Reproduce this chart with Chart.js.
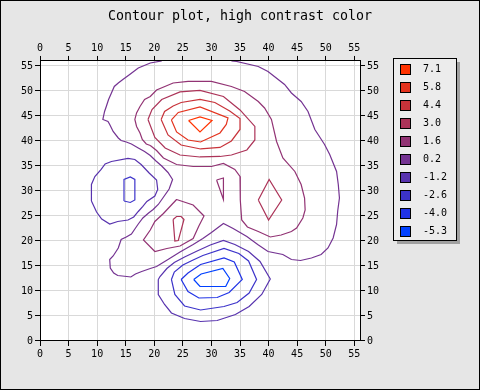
<!DOCTYPE html>
<html><head><meta charset="utf-8">
<script src="https://cdn.jsdelivr.net/npm/chart.js@4/dist/chart.umd.min.js"></script>
<style>html,body{margin:0;padding:0;background:#e6e6e6}canvas{display:block}</style>
</head><body>
<canvas id="c" width="480" height="390"></canvas>
<script>
const TITLE = 'Contour plot, high contrast color';
const TICKS = [0, 5, 10, 15, 20, 25, 30, 35, 40, 45, 50, 55];
const AXIS_MIN = 0, AXIS_MAX = 56;
const LEVELS = [7.1, 5.8, 4.4, 3.0, 1.6, 0.2, -1.2, -2.6, -4.0, -5.3];
const LEVEL_LABELS = ['7.1', '5.8', '4.4', '3.0', '1.6', '0.2', '-1.2', '-2.6', '-4.0', '-5.3'];
const COLORS = ['rgb(255,51,0)', 'rgb(228,51,30)', 'rgb(200,51,58)', 'rgb(172,51,88)', 'rgb(146,51,116)',
                'rgb(116,51,146)', 'rgb(88,51,174)', 'rgb(60,51,202)', 'rgb(32,51,230)', 'rgb(0,64,255)'];

// contour polylines [x, y]
const c71 = [[26.0,44.1],[28.0,44.8],[30.1,44.1],[28.0,41.8],[26.0,44.1]];
const c58 = [[23.0,44.2],[24.2,45.7],[28.0,46.8],[32.9,44.6],[32.6,43.3],[31.5,41.6],[28.1,39.8],[25.9,40.2],[23.9,41.8],[23.0,44.2]];
const c44 = [[21.2,44.3],[21.8,45.9],[23.3,47.0],[24.7,47.7],[28.0,48.3],[30.6,47.7],[33.2,46.0],[35.0,44.5],[35.0,42.3],[33.5,40.0],[31.5,38.7],[28.1,38.4],[24.7,39.2],[22.4,41.2],[21.2,44.3]];
const c30a = [[18.9,44.3],[19.6,46.3],[21.3,48.3],[24.5,49.8],[28.0,50.1],[32.1,48.9],[35.0,46.2],[37.6,42.9],[37.6,40.2],[36.2,38.2],[33.5,37.2],[31.5,36.9],[28.0,36.8],[24.5,37.2],[21.9,38.6],[20.1,40.7],[18.9,44.3]];
const c30b = [[38.2,28.2],[40.1,32.3],[42.3,28.2],[40.0,24.2],[38.2,28.2]];
const c30c = [[23.3,24.3],[23.9,24.9],[24.7,24.9],[25.2,24.3],[24.2,20.1],[23.6,20.0],[23.3,24.3]];
const c16a = [[19.3,39.1],[20.4,38.1],[21.6,36.6],[23.9,35.3],[26.8,34.9],[30.0,34.9],[32.1,35.5],[34.1,34.3],[35.0,32.9],[35.1,30.0],[35.0,28.2],[35.3,24.2],[36.3,22.8],[38.2,21.9],[40.3,20.8],[42.2,21.2],[44.0,21.9],[44.9,22.6],[46.0,24.6],[46.4,26.2],[46.3,28.6],[45.7,31.3],[44.6,33.9],[42.5,36.6],[41.4,39.9],[40.5,44.3],[39.3,46.6],[38.2,47.9],[35.8,49.9],[33.5,50.9],[30.0,51.9],[25.9,51.9],[23.3,51.6],[20.4,50.2],[19.3,48.9],[18.3,48.3],[17.5,46.9],[16.9,45.6],[16.6,44.3],[16.9,42.9],[17.5,41.6],[17.9,40.3],[18.6,39.4],[19.3,39.1]];
const c16b = [[23.9,28.3],[26.8,27.2],[28.7,25.0],[27.8,23.0],[26.8,20.5],[24.5,19.0],[22.2,18.5],[20.1,17.9],[18.1,20.2],[19.3,22.2],[20.1,23.9],[21.6,25.5],[23.9,28.3]];
const c16c = [[30.9,32.2],[32.1,32.6],[32.1,28.3],[30.9,32.2]];
const c02 = [[21.3,56.0],[19.3,55.6],[17.2,54.6],[15.7,53.3],[14.5,52.3],[13.7,51.6],[13.0,50.9],[12.5,49.6],[12.0,48.3],[11.6,46.9],[11.3,45.9],[11.0,44.3],[11.9,43.9],[12.2,43.3],[12.8,41.9],[13.7,40.6],[14.2,40.1],[15.1,39.8],[16.0,39.4],[17.2,38.6],[18.3,37.9],[19.3,37.1],[20.3,36.0],[21.3,35.0],[22.4,33.7],[23.2,32.3],[22.6,30.4],[21.5,28.6],[20.7,27.3],[19.8,26.3],[19.0,25.6],[18.0,24.6],[17.2,23.4],[16.6,22.4],[16.0,21.4],[15.1,20.8],[14.2,20.3],[13.7,18.6],[12.8,17.0],[12.2,16.3],[12.3,14.6],[12.9,13.6],[13.6,13.1],[15.2,12.9],[15.9,12.8],[16.7,13.4],[17.8,13.9],[19.3,14.5],[20.4,14.9],[22.4,16.3],[24.5,17.8],[26.8,19.3],[28.5,20.5],[30.0,21.7],[32.1,23.5],[33.8,22.5],[36.2,20.9],[38.1,19.3],[39.9,17.9],[42.5,17.3],[44.0,16.3],[45.6,16.1],[47.5,16.6],[49.2,17.3],[50.4,18.6],[51.3,20.6],[51.9,23.3],[52.1,26.0],[52.4,28.6],[52.2,31.3],[51.9,33.9],[50.7,37.3],[49.8,39.3],[48.1,42.3],[46.9,45.9],[45.7,47.9],[44.0,49.6],[42.8,51.3],[39.9,53.9],[38.2,54.9],[34.4,55.9],[33.5,56.0]];
const cm12a = [[9.0,28.0],[9.0,31.3],[9.6,32.9],[10.7,34.3],[11.4,35.4],[12.5,35.9],[15.4,36.5],[16.6,36.3],[17.7,35.3],[19.1,33.6],[20.4,32.2],[20.6,30.3],[20.1,29.0],[18.7,27.9],[18.0,26.9],[17.2,25.9],[16.4,24.8],[15.4,24.2],[13.6,23.9],[12.2,23.4],[10.8,24.4],[9.9,25.8],[9.0,28.0]];
const cm12b = [[20.7,12.3],[20.7,9.3],[21.8,7.3],[23.0,5.6],[25.3,4.5],[28.1,3.9],[31.0,4.1],[34.2,5.3],[36.6,6.9],[38.8,9.3],[40.3,12.4],[38.5,15.9],[36.5,17.9],[34.1,19.3],[32.1,20.1],[29.8,19.2],[27.5,18.0],[25.3,16.8],[23.5,15.7],[22.2,14.5],[21.0,12.9],[20.7,12.3]];
const cm26a = [[14.7,28.0],[14.7,32.3],[15.8,32.8],[16.6,32.3],[16.6,28.2],[15.8,27.7],[14.7,28.0]];
const cm26b = [[23.0,12.3],[23.5,13.8],[25.0,15.2],[26.8,16.2],[28.5,17.1],[32.2,18.5],[34.8,17.5],[36.5,16.0],[37.9,12.3],[36.6,9.6],[34.5,7.7],[32.2,6.9],[28.1,6.2],[25.3,7.0],[23.6,9.3],[23.0,12.3]];
const cm40 = [[24.7,12.3],[25.9,13.6],[28.1,15.3],[32.2,16.6],[34.0,15.8],[35.4,12.3],[33.1,9.7],[31.0,8.7],[27.8,8.6],[25.9,9.9],[24.7,12.3]];
const cm53 = [[26.9,12.3],[28.2,13.4],[32.0,14.5],[33.2,12.5],[32.5,10.9],[28.0,10.9],[26.9,12.3]];

const CONTOURS = [
  [7.1, c71], [5.8, c58], [4.4, c44], [3.0, c30a], [3.0, c30b], [3.0, c30c],
  [1.6, c16a], [1.6, c16b], [1.6, c16c], [0.2, c02],
  [-1.2, cm12a], [-1.2, cm12b], [-2.6, cm26a], [-2.6, cm26b], [-4.0, cm40], [-5.3, cm53]
];

const FONT = 'DejaVu Sans Mono';
const datasets = CONTOURS.map(([lvl, pts]) => ({
  label: String(lvl),
  data: pts.map(p => ({x: p[0], y: p[1]})),
  borderColor: COLORS[LEVELS.indexOf(lvl)],
  borderWidth: 1.2,
  showLine: true,
  pointRadius: 0,
  fill: false,
  tension: 0
}));

const setTicks = s => { s.ticks = TICKS.map(v => ({value: v})); };
function axis(pos, main, fit) {
  return {
    type: 'linear', position: pos, min: AXIS_MIN, max: AXIS_MAX,
    afterBuildTicks: setTicks, afterFit: fit,
    grid: {display: true, drawOnChartArea: main, color: '#d9d9d9', tickColor: '#000', tickLength: 5, tickWidth: 1},
    border: {display: true, color: '#000', width: 1},
    ticks: {color: '#000', font: {family: FONT, size: 10}, padding: 2, autoSkip: false, maxRotation: 0}
  };
}

const bgPlugin = {
  id: 'bg',
  beforeDraw(chart) {
    const c = chart.ctx, a = chart.chartArea;
    c.save();
    c.fillStyle = '#e6e6e6';
    c.fillRect(0, 0, chart.width, chart.height);
    c.fillStyle = '#ffffff';
    c.fillRect(a.left, a.top, a.right - a.left, a.bottom - a.top);
    c.restore();
  },
  afterDraw(chart) {
    const c = chart.ctx, a = chart.chartArea;
    c.save();
    // legend box
    const x0 = Math.round(a.right) + 33, y0 = 58, w = 63, h = 182;
    c.fillStyle = '#a0a0a0';
    c.fillRect(x0 + 4, y0 + 4, w, h);
    c.fillStyle = '#ececec';
    c.fillRect(x0, y0, w, h);
    c.strokeStyle = '#000';
    c.lineWidth = 1;
    c.strokeRect(x0 + 0.5, y0 + 0.5, w, h);
    c.font = '10px ' + FONT;
    c.textBaseline = 'middle';
    c.textAlign = 'left';
    LEVEL_LABELS.forEach((lab, i) => {
      const cy = y0 + 11 + i * 18;
      c.fillStyle = COLORS[i];
      c.fillRect(x0 + 7, cy - 5, 11, 11);
      c.strokeStyle = '#000';
      c.strokeRect(x0 + 7.5, cy - 4.5, 10, 10);
      c.fillStyle = '#000';
      c.fillText(lab, x0 + 30, cy + 0.5);
    });
    // outer frame
    c.strokeStyle = '#000';
    c.strokeRect(0.5, 0.5, chart.width - 1, chart.height - 1);
    c.restore();
  }
};

new Chart(document.getElementById('c'), {
  type: 'scatter',
  data: {datasets},
  options: {
    responsive: false, animation: false, events: [],
    layout: {padding: 0},
    plugins: {
      legend: {display: false}, tooltip: {enabled: false},
      title: {display: true, text: TITLE, color: '#000', font: {family: FONT, size: 13.3, weight: 'normal'}, padding: {top: 9, bottom: 0}}
    },
    scales: {
      x: axis('bottom', true, s => { s.height = 49; }),
      x2: axis('top', false, s => { s.height = 36; }),
      y: axis('left', true, s => { s.width = 40; }),
      y2: axis('right', false, s => { s.width = 120; })
    }
  },
  plugins: [bgPlugin]
});
</script>
</body></html>
